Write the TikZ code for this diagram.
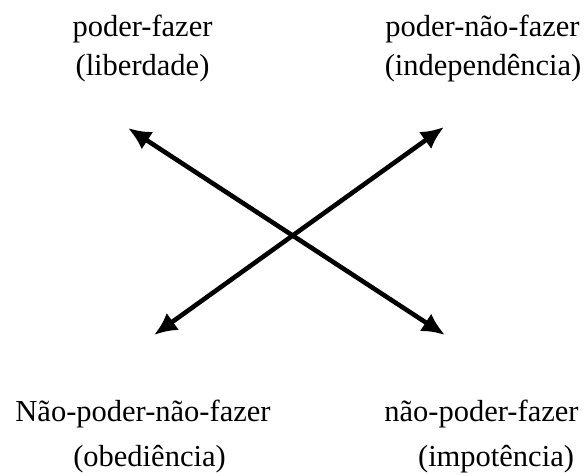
\documentclass[tikz,border=0pt]{standalone}
\usepackage{fontspec}
\setmainfont{Liberation Serif}
\usetikzlibrary{arrows.meta}
\begin{document}
\begin{tikzpicture}[x=1pt,y=-1pt,
  lbl/.style={anchor=base,inner sep=0pt,font=\fontsize{30.5}{36}\selectfont},
  dbl/.style={line width=4.6pt,{Latex[length=23pt,width=21pt]}-{Latex[length=23pt,width=21pt]}}]
\useasboundingbox[fill=white] (0,0) rectangle (585,475);
% labels
\node[lbl] (tl1) at (142.5,36) {poder-fazer};
\node[lbl] (tl2) at (142.5,75) {(liberdade)};
\node[lbl] (tr1) at (482.5,36) {poder-não-fazer};
\node[lbl] (tr2) at (483,75) {(independência)};
\node[lbl] (bl1) at (143,421) {Não-poder-não-fazer};
\node[lbl] (bl2) at (149.5,466) {(obediência)};
\node[lbl] (br1) at (481.5,421) {não-poder-fazer};
\node[lbl] (br2) at (496,466) {(impotência)};
% arrow ends
\coordinate (a1) at (128,128);
\coordinate (a2) at (445,335);
\coordinate (b1) at (154,335);
\coordinate (b2) at (444,127);
\draw[dbl] (a1) -- (a2);
\draw[dbl] (b1) -- (b2);
\end{tikzpicture}
\end{document}
